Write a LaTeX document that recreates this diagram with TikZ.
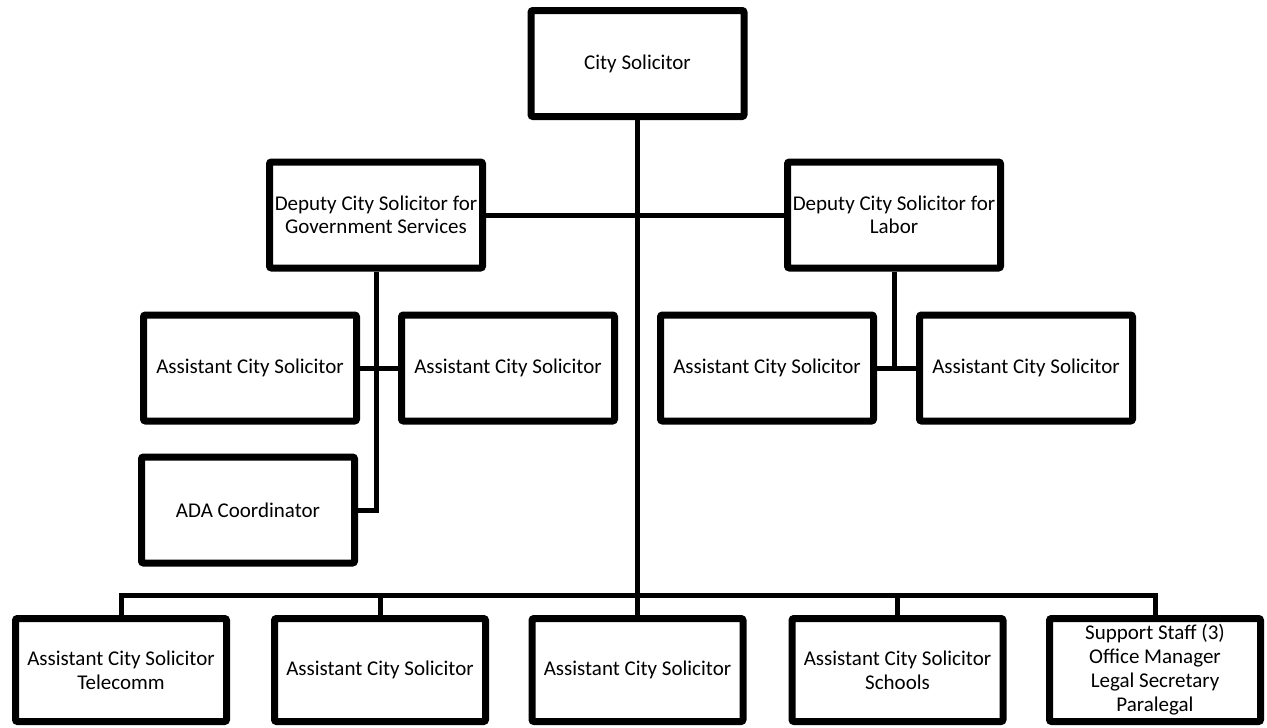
\documentclass[tikz,border=0pt]{standalone}
\usepackage{fontspec}
\setmainfont{Carlito}
\usetikzlibrary{shadows}

\begin{document}
\begin{tikzpicture}[x=1pt,y=-1pt,
post/.style={draw,line width=7pt,rounded corners=2pt,fill=white,
 minimum width=213pt,minimum height=106pt,inner sep=0pt,align=center,
 font=\fontsize{21}{23}\selectfont,
 drop shadow={shadow xshift=1.5pt,shadow yshift=-2.5pt,opacity=.35}},
link/.style={line width=5pt}]

 \useasboundingbox (0,0) rectangle (1267,728);
 % top levels
 \node[post] (cs) at (637.5,63.5) {City Solicitor};
 \node[post] (dgs) at (376,215) {Deputy City Solicitor for\\Government Services};
 \node[post] (dlab) at (894,215) {Deputy City Solicitor for\\Labor};
 \node[post] (a1) at (250,368) {Assistant City Solicitor};
 \node[post] (a2) at (508,368) {Assistant City Solicitor};
 \node[post] (a3) at (767,368) {Assistant City Solicitor};
 \node[post] (a4) at (1026,368) {Assistant City Solicitor};
 \node[post] (ada) at (248,510) {ADA Coordinator};
 % bottom row
 \foreach\X/\Y [count=\i] in {121/{Assistant City Solicitor\\Telecomm},
  380/{Assistant City Solicitor},637.5/{Assistant City Solicitor},
  897.5/{Assistant City Solicitor\\Schools},
  1155/{Support Staff (3)\\Office Manager\\Legal Secretary\\Paralegal}}
 {\node[post,minimum width=211pt,minimum height=103pt,
   font=\fontsize{21}{24}\selectfont] (b\i) at (\X,670) {\Y};}
 %
 \coordinate (bar) at (637.5,595);
 \draw[link] (cs) -- (bar);
 \draw[link] (dgs) -- (dlab);
 \draw[link] (dgs) |- (ada);
 \draw[link] (a1) -- (a2);
 \draw[link] (dlab) -- (dlab |- a3);
 \draw[link] (a3) -- (a4);
 \draw[link] (b1) |- (bar) -| (b5);
 \foreach\i in {2,3,4}
 {\draw[link] (b\i) -- (b\i |- bar);}
\end{tikzpicture}
\end{document}
